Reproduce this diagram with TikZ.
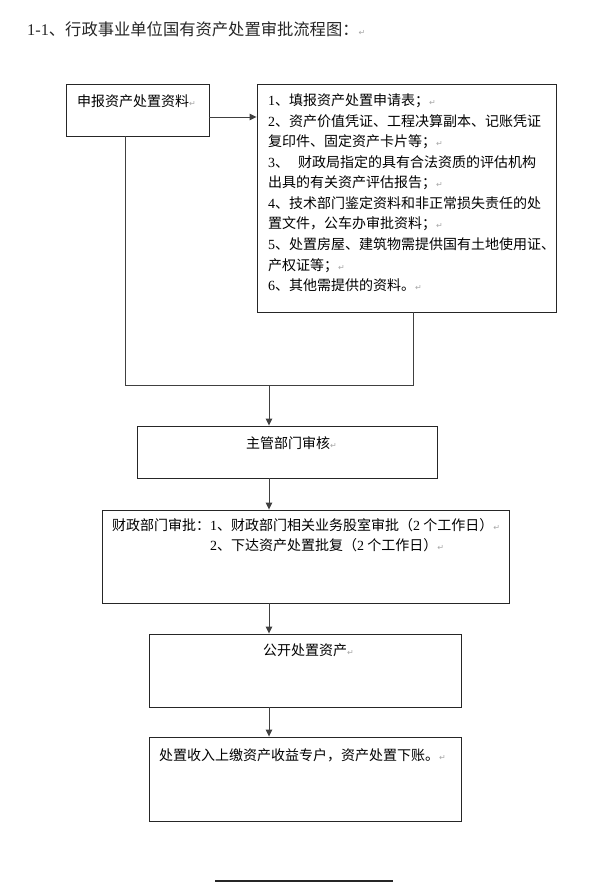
\documentclass[tikz,border=0pt]{standalone}
\usepackage{fontspec}
\setmainfont{Liberation Serif}
\newfontfamily\cjk{Noto Sans CJK SC}
\newfontfamily\dejavu{DejaVu Sans}
\usetikzlibrary{arrows.meta,calc}
\newcommand\dg[1]{{\rmfamily #1}}
\newcommand\retm{{\color{black!35}\dejavu\fontsize{8}{8}\selectfont ↵}}
\tikzset{
  box/.style={draw=black!85, line width=0.9pt, rectangle, inner sep=0pt},
  conn/.style={draw=black!75, line width=0.9pt},
  arr/.style={conn, -{Triangle[length=7pt,width=6.5pt]}},
  txt/.style={anchor=base west, inner sep=0pt, font=\cjk\fontsize{14}{14}\selectfont, text=black},
  ttl/.style={anchor=base west, inner sep=0pt, font=\cjk\fontsize{16.3}{16.3}\selectfont, text=black!85},
}
\begin{document}
\begin{tikzpicture}[x=1pt,y=-1pt]
\useasboundingbox (0,0) rectangle (600,890);
% title
\node[ttl] (title) at (27,36) {\dg{1-1}、行政事业单位国有资产处置审批流程图：\retm};
% boxes
\node[box, minimum width=143pt, minimum height=52pt] (A) at (137.5,110) {};
\node[box, minimum width=299pt, minimum height=228pt] (B) at (406.5,198) {};
\node[box, minimum width=300pt, minimum height=52pt] (C) at (287,452) {};
\node[box, minimum width=407pt, minimum height=93pt] (D) at (305.5,556.5) {};
\node[box, minimum width=312pt, minimum height=73pt] (E) at (305,670.5) {};
\node[box, minimum width=312pt, minimum height=84pt] (F) at (305,779) {};
% texts
\node[txt] (tA) at (77,107) {申报资产处置资料\retm};
\node[txt] (b1) at (268,106) {\dg{1}、填报资产处置申请表；\retm};
\node[txt] (b2) at (268,126.5) {\dg{2}、资产价值凭证、工程决算副本、记账凭证};
\node[txt] (b3) at (268,147) {复印件、固定资产卡片等；\retm};
\node[txt] (b4) at (268,167.5) {\dg{3}、\hspace{9pt}财政局指定的具有合法资质的评估机构};
\node[txt] (b5) at (268,188) {出具的有关资产评估报告；\retm};
\node[txt] (b6) at (268,208.5) {\dg{4}、技术部门鉴定资料和非正常损失责任的处};
\node[txt] (b7) at (268,229) {置文件，公车办审批资料；\retm};
\node[txt] (b8) at (268,249.5) {\dg{5}、处置房屋、建筑物需提供国有土地使用证、};
\node[txt] (b9) at (268,270) {产权证等；\retm};
\node[txt] (b10) at (268,290.5) {\dg{6}、其他需提供的资料。\retm};
\node[txt] (tC) at (246,448) {主管部门审核\retm};
\node[txt] (d1) at (112,530) {财政部门审批：\dg{1}、财政部门相关业务股室审批（\dg{2} 个工作日）\retm};
\node[txt] (d2) at (210,550) {\dg{2}、下达资产处置批复（\dg{2} 个工作日）\retm};
\node[txt] (tE) at (263,655) {公开处置资产\retm};
\node[txt] (tF) at (159,760) {处置收入上缴资产收益专户，资产处置下账。\retm};
% connectors
\draw[arr] ([yshift=-7pt]A.east) -- ([yshift=-7pt]A.east -| B.west);
\coordinate (jl) at (125,385);
\coordinate (jr) at (413,385);
\coordinate (jm) at (269,385);
\draw[conn] (A.south -| jl) -- (jl) -- (jr) -- (B.south -| jr);
\draw[arr] (jm) -- (C.north -| jm);
\draw[arr] (C.south -| jm) -- (D.north -| jm);
\draw[arr] (D.south -| jm) -- (E.north -| jm);
\draw[arr] (E.south -| jm) -- (F.north -| jm);
% bottom rule
\coordinate (rl) at (215,881);
\coordinate (rr) at (393,881);
\draw[black!85, line width=1.1pt] (rl) -- (rr);
\end{tikzpicture}
\end{document}
